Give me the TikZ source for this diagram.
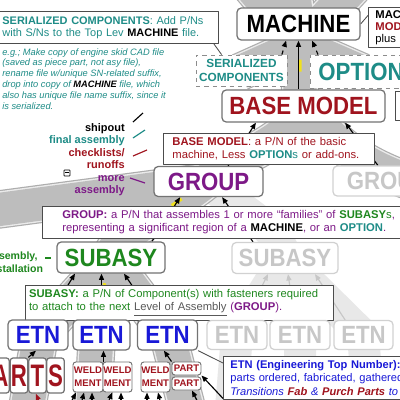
\documentclass[tikz,border=0pt]{standalone}
\usepackage{graphicx}
\usepackage{fontspec}
\setmainfont{Liberation Sans}
\usetikzlibrary{arrows.meta}

\definecolor{tealtxt}{RGB}{30,140,135}
\definecolor{redtxt}{RGB}{160,20,30}
\definecolor{purtxt}{RGB}{125,25,135}
\definecolor{grntxt}{RGB}{30,135,30}
\definecolor{blutxt}{RGB}{25,25,215}
\definecolor{roadyel}{RGB}{240,225,30}

\newcommand{\lvlfont}{\fontsize{15.8}{16}\selectfont\bfseries}
\newcommand{\tall}[1]{\scalebox{1}[1.12]{#1}}
\newcommand{\dscfont}{\fontsize{8}{9.4}\selectfont}

\pgfdeclarelayer{road}
\pgfdeclarelayer{links}
\pgfsetlayers{road,links,main}

\begin{document}
\begin{tikzpicture}[x=0.25mm, y=-0.25mm, line join=round,
  sz/.style 2 args={minimum width=#1*0.25mm, minimum height=#2*0.25mm},
  lvlbox/.style={draw=black!55, line width=0.9pt, fill=white, rounded corners=3pt, inner sep=0pt, font=\lvlfont},
  ghostbox/.style={lvlbox, draw=black!18, text=black!22},
  optbox/.style={draw=black!45, dashed, line width=0.6pt, fill=white, inner sep=0pt},
  dscbox/.style={draw=black!70, line width=0.6pt, fill=white, inner xsep=1.75mm, inner ysep=1mm, align=left, font=\dscfont, anchor=north west},
  smallbox/.style={lvlbox, line width=0.7pt, rounded corners=2pt, text=redtxt, align=center, font=\fontsize{6.8}{9}\selectfont\bfseries},
  up/.style={-{Triangle[length=4.5pt,width=3.6pt]}, line width=0.8pt},
  ghostup/.style={up, draw=black!22, fill=black!22},
  lead/.style={draw=black!70, line width=0.6pt},
  tick/.style={line width=0.8pt},
  roadedge/.style={draw=black!32, line width=9.6mm},
  roadline/.style={draw=white!92!black, line width=9mm},
  roadbed/.style={draw=black!26, line width=8.3mm},
  ghostroad/.style={draw=black!9, line width=8mm},
  centreline/.style={draw=roadyel, line width=0.8mm, dash pattern=on 3mm off 7mm}
]
\useasboundingbox (0,0) rectangle (400,400);
\clip (0,0) rectangle (400,400);

% top row
\node[lvlbox, sz={123}{32}] (mach) at (298.5,24) {\tall{MACHINE}};
\node[dscbox, sz={80}{40}, inner ysep=0.5mm, text width=17mm, font=\fontsize{8}{8.6}\selectfont] (machdsc) at (368,7)
  {\textbf{MACHINE:}\\{\color{redtxt}\bfseries MODEL}\\plus all};
\node[dscbox, sz={223}{32}, inner ysep=0.5mm, text width=52.25mm, text=tealtxt, font=\fontsize{7.8}{8.9}\selectfont] (topdsc) at (-5,11)
  {\textbf{SERIALIZED COMPONENTS}: Add P/Ns\\with S/Ns to the Top Lev {\color{black}\bfseries MACHINE} file.};
\node[anchor=north west, inner sep=0pt, align=left, text=tealtxt, font=\fontsize{6.6}{7.8}\selectfont\itshape] (egtext) at (2,48)
  {e.g.; Make copy of engine skid CAD file\\
   (saved as piece part, not asy file),\\
   rename file w/unique SN-related suffix,\\
   drop into copy of {\color{black}\bfseries MACHINE} file, which\\
   also has unique file name suffix, since it\\
   is serialized.};

\node[optbox, sz={91}{31}, align=center, text=tealtxt, font=\fontsize{8.4}{10}\selectfont\bfseries] (sercomp) at (241.5,70.5)
  {SERIALIZED\\COMPONENTS};
\node[optbox, sz={102}{33}, text=tealtxt, font=\lvlfont] (opt) at (361,71.5) {\tall{OPTION}};

% base model
\node[lvlbox, sz={163}{32}, text=redtxt] (base) at (303.5,106) {\tall{BASE MODEL}};
\node[dscbox, sz={60}{29}] (basenote) at (395,91) {};
\node[dscbox, sz={211}{29}, inner xsep=2.25mm, text width=48.25mm, text=redtxt] (basedsc) at (163,133)
  {\textbf{BASE MODEL}: a P/N of the basic\\
   machine, Less {\color{tealtxt}\bfseries OPTION}{\color{tealtxt}s} or add-ons.};

\node[anchor=north east, inner sep=0pt, align=right, font=\fontsize{7.8}{8.9}\selectfont\bfseries] (stages) at (125,123)
  {shipout\\{\color{tealtxt}final assembly}\\{\color{redtxt}checklists/}\\{\color{redtxt}runoffs}\\
   {\color{purtxt}more}\\{\color{purtxt}assembly}};
\draw[tick] (133,122) -- (143,113);
\draw[tick, tealtxt] (133,138) -- (145,130);
\draw[tick, redtxt] (133,156) -- (147,150);
\draw[tick, purtxt] (130,178) -- (145,183);
\draw[line width=0.5pt, rounded corners=0.5pt] (64,170) rectangle (70,176);
\fill (65,172) rectangle (69,173);

% group
\node[lvlbox, sz={109}{30}, text=purtxt] (grp) at (208.5,181.5) {\tall{GROUP}};
\node[ghostbox, sz={109}{30}] (grpghost) at (387.5,181) {\tall{GROUP}};
\node[dscbox, sz={388}{31}, inner xsep=5mm, text width=87mm, text=purtxt] (grpdsc) at (42,206)
  {\textbf{GROUP:} a P/N that assembles 1 or more “families” of {\color{grntxt}\bfseries SUBASY}{\color{grntxt}s},\\
   representing a significant region of a {\color{black}\bfseries MACHINE}, or an {\color{tealtxt}\bfseries OPTION}.};

% subasy
\node[lvlbox, sz={108}{31}, text=grntxt] (sub) at (111,257.5) {\tall{SUBASY}};
\node[ghostbox, sz={106}{31}] (subghost) at (285,258) {\tall{SUBASY}};
\node[anchor=north west, inner sep=0pt, align=left, text=grntxt, font=\fontsize{7.5}{9.2}\selectfont\bfseries] (subnote) at (-13,252)
  {assembly,\\installation};
\draw[tick, grntxt] (45,258) -- (51,258);
\node[dscbox, sz={308}{30}, inner xsep=0.9mm, text width=75.25mm, text=grntxt] (subdsc) at (25,285)
  {\textbf{SUBASY:} a P/N of Component(s) with fasteners required\\
   to attach to the next {\color{black!65}\underline{Level of Assembly}} {\color{purtxt}(\textbf{GROUP}).}};

% etn
\node[lvlbox, sz={60}{30}, text=blutxt] (etnA) at (38,335) {\tall{ETN}};
\node[lvlbox, sz={57}{30}, text=blutxt] (etnB) at (101.5,335) {\tall{ETN}};
\node[lvlbox, sz={60}{30}, text=blutxt] (etnC) at (167.5,335) {\tall{ETN}};
\node[ghostbox, sz={60}{29}] (etnghostA) at (237,335) {\tall{ETN}};
\node[ghostbox, sz={60}{29}] (etnghostB) at (300,335) {\tall{ETN}};
\node[ghostbox, sz={59}{29}] (etnghostC) at (363.5,335) {\tall{ETN}};
\node[dscbox, text width=60mm, text=blutxt, font=\fontsize{7.9}{9.6}\selectfont] (etndsc) at (223,356)
  {\textbf{ETN (Engineering Top Number):}\\
   parts ordered, fabricated, gathered\\
   \itshape Transitions {\color{redtxt}\bfseries Fab} \& {\color{redtxt}\bfseries Purch Parts} to};

% parts
\foreach \l/\x in {P/-17,A/0.5,R/19,T/37.5,S/55.5}
  \node[lvlbox, sz={17.5}{35}, rounded corners=2pt, text=redtxt] (p\l) at (\x,375.5) {\scalebox{1}[1.4]{\l}};
\node[smallbox, sz={30}{30}] (wldA) at (88,377) {WELD\\MENT};
\node[smallbox, sz={29}{30}] (wldB) at (117.5,377) {WELD\\MENT};
\node[smallbox, sz={29}{30}] (wldC) at (155.5,377) {WELD\\MENT};
\node[smallbox, sz={29}{13}] (prtA) at (186.5,368.5) {PART};
\node[smallbox, sz={29}{13}] (prtB) at (186.5,383.5) {PART};
\coordinate (fromfab) at (232,408);

% arrows, under the boxes
\begin{pgfonlayer}{links}
\draw[up, dashed] ([xshift=10.1mm]sercomp.north) -- ([xshift=-3.1mm]mach.south);
\draw[up] (base.north -| mach.south) -- (mach.south);
\draw[up, dashed] ([xshift=-10.75mm]opt.north) -- ([xshift=3.4mm]mach.south);
\draw[up] ([xshift=4.9mm]grp.north) -- ([xshift=-11.9mm]base.south);
\draw[up] ([xshift=-2.4mm]grpghost.north) -- ([xshift=10.4mm]base.south);
\draw[up] ([xshift=10.25mm]sub.north) -- ([xshift=-7.1mm]grp.south);
\draw[up] ([xshift=-8mm]subghost.north) -- ([xshift=3.4mm]grp.south);
\draw[up] ([xshift=2.25mm]etnA.north) -- ([xshift=-9mm]sub.south);
\draw[up] (etnB.north) -- (etnB.north |- sub.south);
\draw[up] ([xshift=-3.1mm]etnC.north) -- ([xshift=3.25mm]sub.south);
\draw[ghostup] ([xshift=2mm]etnghostA.north) -- ([xshift=-4.25mm]subghost.south);
\draw[ghostup] ([xshift=-1.25mm]etnghostB.north) -- ([xshift=0.75mm]subghost.south);
\draw[ghostup] ([xshift=-4.6mm]etnghostC.north) -- ([xshift=7.5mm]subghost.south);
\draw[up] (pR.north east) -- ([xshift=-0.5mm]etnA.south);
\draw[up] (wldA.north east) -- (wldA.north east |- etnB.south);
\draw[up] (prtA.north west) -- ([xshift=-0.9mm]etnC.south);
\foreach \tgt/\dx/\fx in {wldA/-12/-20, wldA/-4/-8, wldA/4/4, wldB/-5.5/-11.5, wldB/3.5/3.5,
                          wldC/-8.5/-8.5, wldC/2.5/6.5, prtB/5.5/13.5}
  \draw[up] ([shift={(\fx,16)}]\tgt.south) -- ([xshift=\dx*0.25mm]\tgt.south);
\draw[up, redtxt] ([shift={(4,14)}]pT.south) -- ([xshift=-0.4mm]pT.south);
\draw[up] (fromfab) -- (prtA.south east);
\draw[lead] ([xshift=-1.25mm]topdsc.south east) -- ([xshift=6.5mm]sercomp.north west);
\draw[lead] (mach.east) -- ([yshift=3mm]machdsc.west);
\draw[lead] (etnC.south east) -- ([yshift=-1.75mm]etndsc.north west);
\end{pgfonlayer}

% roads
\begin{pgfonlayer}{road}
\fill[white] (0,0) rectangle (400,400);
\draw[ghostroad] (205,182) .. controls (250,215) and (280,230) .. (285,258)
  (285,258) -- (237,335) -- (230,420) (285,258) -- (300,335) -- (300,420) (285,258) -- (363,335) -- (370,420);
\foreach \st in {roadedge,roadline,roadbed}
  \draw[\st] (292,-20) -- (300,45) -- (300,100) .. controls (300,140) and (245,150) .. (205,182)
    .. controls (165,214) and (118,232) .. (110,258) .. controls (104,285) and (100,305) .. (97,335) -- (92,420)
    (300,45) -- (245,-20) (300,45) -- (360,-20)
    (300,45) -- (240,72) (300,45) -- (362,72)
    (300,100) .. controls (330,140) and (360,170) .. (440,190)
    (205,182) -- (-20,212)
    (110,258) -- (40,335) -- (25,420)
    (110,258) -- (168,335) -- (190,420);
\draw[centreline] (292,-20) -- (300,45) -- (300,100) .. controls (300,140) and (245,150) .. (205,182)
    .. controls (165,214) and (118,232) .. (110,258) .. controls (104,285) and (100,305) .. (97,335) -- (92,420);
\end{pgfonlayer}
\end{tikzpicture}
\end{document}
